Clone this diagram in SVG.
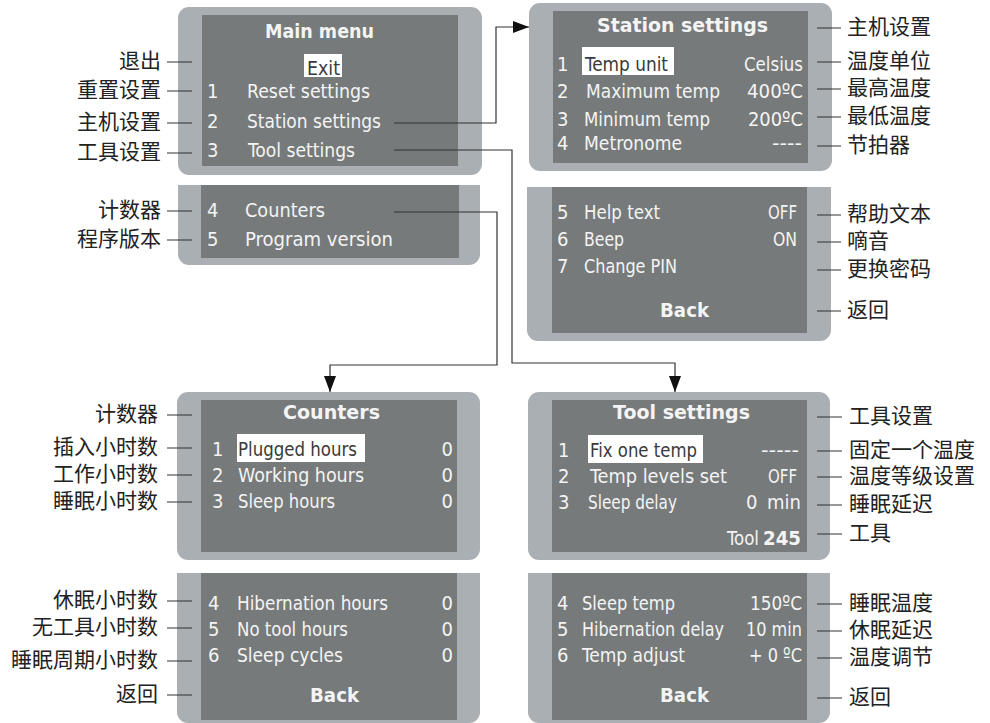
<svg xmlns="http://www.w3.org/2000/svg" width="990" height="723" viewBox="0 0 990 723">
<style>
.outer{fill:#a9afb3}
.inner{fill:#767a7a}
.sel{fill:#ffffff}
.t{font-family:"DejaVu Sans Condensed","Liberation Sans Narrow","Liberation Sans",sans-serif;font-size:20px;fill:#f4f4f4}
.d{fill:#3a3a3a}
.b{font-family:"DejaVu Sans","Liberation Sans",sans-serif;font-size:19px;font-weight:bold;fill:#f4f4f4}
.e{text-anchor:end}
.lab{font-family:"Noto Sans CJK SC","Noto Sans",sans-serif;font-size:21px;fill:#222}
.ln{stroke:#333;stroke-width:1.2;fill:none}
</style>
<defs>
<marker id="arr" markerUnits="userSpaceOnUse" markerWidth="16" markerHeight="12" refX="16" refY="6" orient="auto">
<path d="M0,0 L16,6 L0,12 Z" fill="#111"/>
</marker>
</defs>

<g id="main-menu">
<rect class="outer" x="178" y="7" width="304" height="168" rx="11"/>
<rect class="inner" x="202" y="15" width="256" height="151"/>
<text class="b" x="265" y="38" textLength="109" lengthAdjust="spacingAndGlyphs">Main menu</text>
<rect class="sel" x="304" y="54" width="38" height="23"/>
<text class="t d" x="307" y="75" textLength="33" lengthAdjust="spacingAndGlyphs">Exit</text>
<text class="t" x="207" y="98">1</text>
<text class="t" x="247" y="98" textLength="123" lengthAdjust="spacingAndGlyphs">Reset settings</text>
<text class="t" x="207" y="128">2</text>
<text class="t" x="247" y="128" textLength="134" lengthAdjust="spacingAndGlyphs">Station settings</text>
<text class="t" x="207" y="157">3</text>
<text class="t" x="248" y="157" textLength="107" lengthAdjust="spacingAndGlyphs">Tool settings</text>
</g>

<g id="main-menu-2">
<path class="outer" d="M178,185 H480 V254 A11,11 0 0 1 469,265 H189 A11,11 0 0 1 178,254 Z"/>
<rect class="inner" x="201" y="185" width="258" height="73"/>
<text class="t" x="207" y="217">4</text>
<text class="t" x="245" y="217" textLength="80" lengthAdjust="spacingAndGlyphs">Counters</text>
<text class="t" x="207" y="246">5</text>
<text class="t" x="245" y="246" textLength="148" lengthAdjust="spacingAndGlyphs">Program version</text>
</g>

<g id="station-settings">
<rect class="outer" x="529" y="3" width="303" height="168" rx="11"/>
<rect class="inner" x="553" y="11" width="255" height="152"/>
<text class="b" x="597" y="32" textLength="171" lengthAdjust="spacingAndGlyphs">Station settings</text>
<rect class="sel" x="582" y="47" width="92" height="28"/>
<text class="t" x="557" y="71">1</text>
<text class="t d" x="585" y="71" textLength="83" lengthAdjust="spacingAndGlyphs">Temp unit</text>
<text class="t e" x="803" y="71" textLength="59" lengthAdjust="spacingAndGlyphs">Celsius</text>
<text class="t" x="557" y="98">2</text>
<text class="t" x="586" y="98" textLength="134" lengthAdjust="spacingAndGlyphs">Maximum temp</text>
<text class="t e" x="803" y="98" textLength="56" lengthAdjust="spacingAndGlyphs">400ºC</text>
<text class="t" x="557" y="126">3</text>
<text class="t" x="584" y="126" textLength="126" lengthAdjust="spacingAndGlyphs">Minimum temp</text>
<text class="t e" x="803" y="126" textLength="55" lengthAdjust="spacingAndGlyphs">200ºC</text>
<text class="t" x="557" y="150">4</text>
<text class="t" x="584" y="150" textLength="98" lengthAdjust="spacingAndGlyphs">Metronome</text>
<text class="t e" x="802" y="150" textLength="30" lengthAdjust="spacingAndGlyphs">----</text>
</g>

<g id="station-settings-2">
<path class="outer" d="M527,187 H831 V330 A11,11 0 0 1 820,341 H538 A11,11 0 0 1 527,330 Z"/>
<rect class="inner" x="552" y="187" width="255" height="146"/>
<text class="t" x="557" y="219">5</text>
<text class="t" x="584" y="219" textLength="76" lengthAdjust="spacingAndGlyphs">Help text</text>
<text class="t e" x="797" y="219" textLength="29" lengthAdjust="spacingAndGlyphs">OFF</text>
<text class="t" x="557" y="246">6</text>
<text class="t" x="584" y="246" textLength="40" lengthAdjust="spacingAndGlyphs">Beep</text>
<text class="t e" x="797" y="246" textLength="24" lengthAdjust="spacingAndGlyphs">ON</text>
<text class="t" x="557" y="273">7</text>
<text class="t" x="584" y="273" textLength="93" lengthAdjust="spacingAndGlyphs">Change PIN</text>
<text class="b" x="660" y="317" textLength="49" lengthAdjust="spacingAndGlyphs">Back</text>
</g>

<g id="counters">
<rect class="outer" x="177" y="392" width="303" height="168" rx="11"/>
<rect class="inner" x="201" y="400" width="256" height="152"/>
<text class="b" x="283" y="419" textLength="97" lengthAdjust="spacingAndGlyphs">Counters</text>
<rect class="sel" x="237" y="434" width="128" height="28"/>
<text class="t" x="212" y="456">1</text>
<text class="t d" x="238" y="456" textLength="119" lengthAdjust="spacingAndGlyphs">Plugged hours</text>
<text class="t e" x="453" y="456">0</text>
<text class="t" x="212" y="482">2</text>
<text class="t" x="238" y="482" textLength="126" lengthAdjust="spacingAndGlyphs">Working hours</text>
<text class="t e" x="453" y="482">0</text>
<text class="t" x="212" y="508">3</text>
<text class="t" x="238" y="508" textLength="97" lengthAdjust="spacingAndGlyphs">Sleep hours</text>
<text class="t e" x="453" y="508">0</text>
</g>

<g id="counters-2">
<path class="outer" d="M177,573 H480 V712 A11,11 0 0 1 469,723 H188 A11,11 0 0 1 177,712 Z"/>
<rect class="inner" x="201" y="573" width="256" height="147"/>
<text class="t" x="208" y="610">4</text>
<text class="t" x="237" y="610" textLength="151" lengthAdjust="spacingAndGlyphs">Hibernation hours</text>
<text class="t e" x="453" y="610">0</text>
<text class="t" x="208" y="636">5</text>
<text class="t" x="237" y="636" textLength="111" lengthAdjust="spacingAndGlyphs">No tool hours</text>
<text class="t e" x="453" y="636">0</text>
<text class="t" x="208" y="662">6</text>
<text class="t" x="237" y="662" textLength="106" lengthAdjust="spacingAndGlyphs">Sleep cycles</text>
<text class="t e" x="453" y="662">0</text>
<text class="b" x="310" y="702" textLength="49" lengthAdjust="spacingAndGlyphs">Back</text>
</g>

<g id="tool-settings">
<rect class="outer" x="528" y="392" width="302" height="168" rx="11"/>
<rect class="inner" x="552" y="400" width="255" height="152"/>
<text class="b" x="613" y="419" textLength="137" lengthAdjust="spacingAndGlyphs">Tool settings</text>
<rect class="sel" x="588" y="435" width="115" height="28"/>
<text class="t" x="558" y="457">1</text>
<text class="t d" x="590" y="457" textLength="107" lengthAdjust="spacingAndGlyphs">Fix one temp</text>
<text class="t e" x="799" y="457" textLength="38" lengthAdjust="spacingAndGlyphs">-----</text>
<text class="t" x="558" y="483">2</text>
<text class="t" x="590" y="483" textLength="137" lengthAdjust="spacingAndGlyphs">Temp levels set</text>
<text class="t e" x="797" y="483" textLength="29" lengthAdjust="spacingAndGlyphs">OFF</text>
<text class="t" x="558" y="509">3</text>
<text class="t" x="588" y="509" textLength="89" lengthAdjust="spacingAndGlyphs">Sleep delay</text>
<text class="t" x="746" y="509">0 <tspan x="767">min</tspan></text>
<text class="t" x="727" y="545" textLength="32" lengthAdjust="spacingAndGlyphs">Tool</text>
<text class="b" x="763" y="545" font-size="21" textLength="38" lengthAdjust="spacingAndGlyphs">245</text>
</g>

<g id="tool-settings-2">
<path class="outer" d="M528,573 H830 V712 A11,11 0 0 1 819,723 H539 A11,11 0 0 1 528,712 Z"/>
<rect class="inner" x="552" y="573" width="255" height="147"/>
<text class="t" x="557" y="610">4</text>
<text class="t" x="582" y="610" textLength="93" lengthAdjust="spacingAndGlyphs">Sleep temp</text>
<text class="t e" x="802" y="610" textLength="52" lengthAdjust="spacingAndGlyphs">150ºC</text>
<text class="t" x="557" y="636">5</text>
<text class="t" x="582" y="636" textLength="142" lengthAdjust="spacingAndGlyphs">Hibernation delay</text>
<text class="t e" x="802" y="636" textLength="56" lengthAdjust="spacingAndGlyphs">10 min</text>
<text class="t" x="557" y="662">6</text>
<text class="t" x="582" y="662" textLength="103" lengthAdjust="spacingAndGlyphs">Temp adjust</text>
<text class="t e" x="802" y="662" textLength="53" lengthAdjust="spacingAndGlyphs">+ 0 ºC</text>
<text class="b" x="660" y="702" textLength="49" lengthAdjust="spacingAndGlyphs">Back</text>
</g>

<g id="connectors">
<path class="ln" d="M394,123 H496 V27 H529" marker-end="url(#arr)"/>
<path class="ln" d="M394,150 H512 V363 H675 V392" marker-end="url(#arr)"/>
<path class="ln" d="M394,212 H497 V365 H330 V392" marker-end="url(#arr)"/>
<g id="leaders">
<path class="ln" d="M167,62 H192 M167,91 H192 M167,123 H192 M167,153 H192 M167,211 H192 M167,240 H192"/>
<path class="ln" d="M167,415 H192 M167,448 H192 M167,475 H192 M167,502 H192 M167,601 H192 M167,628 H192 M167,661 H192 M167,695 H192"/>
<path class="ln" d="M817,28 H841 M817,62 H841 M817,89 H841 M817,117 H841 M817,146 H841 M817,215 H841 M817,242 H841 M817,270 H841 M817,311 H841"/>
<path class="ln" d="M817,417 H842 M817,451 H842 M817,477 H842 M817,505 H842 M817,534 H842 M817,604 H842 M817,631 H842 M817,658 H842 M817,698 H842"/>
</g>
</g>

<g id="labels-left">
<text class="lab e" x="161" y="68">退出</text>
<text class="lab e" x="161" y="97">重置设置</text>
<text class="lab e" x="161" y="129">主机设置</text>
<text class="lab e" x="161" y="159">工具设置</text>
<text class="lab e" x="161" y="217">计数器</text>
<text class="lab e" x="161" y="246">程序版本</text>
<text class="lab e" x="158" y="421">计数器</text>
<text class="lab e" x="158" y="454">插入小时数</text>
<text class="lab e" x="158" y="481">工作小时数</text>
<text class="lab e" x="158" y="508">睡眠小时数</text>
<text class="lab e" x="158" y="607">休眠小时数</text>
<text class="lab e" x="158" y="634">无工具小时数</text>
<text class="lab e" x="158" y="667">睡眠周期小时数</text>
<text class="lab e" x="158" y="701">返回</text>
</g>

<g id="labels-right">
<text class="lab" x="847" y="34">主机设置</text>
<text class="lab" x="847" y="68">温度单位</text>
<text class="lab" x="847" y="95">最高温度</text>
<text class="lab" x="847" y="123">最低温度</text>
<text class="lab" x="847" y="152">节拍器</text>
<text class="lab" x="847" y="221">帮助文本</text>
<text class="lab" x="847" y="248">嘀音</text>
<text class="lab" x="847" y="276">更换密码</text>
<text class="lab" x="847" y="317">返回</text>
<text class="lab" x="849" y="423">工具设置</text>
<text class="lab" x="849" y="457">固定一个温度</text>
<text class="lab" x="849" y="483">温度等级设置</text>
<text class="lab" x="849" y="511">睡眠延迟</text>
<text class="lab" x="849" y="540">工具</text>
<text class="lab" x="849" y="610">睡眠温度</text>
<text class="lab" x="849" y="637">休眠延迟</text>
<text class="lab" x="849" y="664">温度调节</text>
<text class="lab" x="849" y="704">返回</text>
</g>
</svg>
